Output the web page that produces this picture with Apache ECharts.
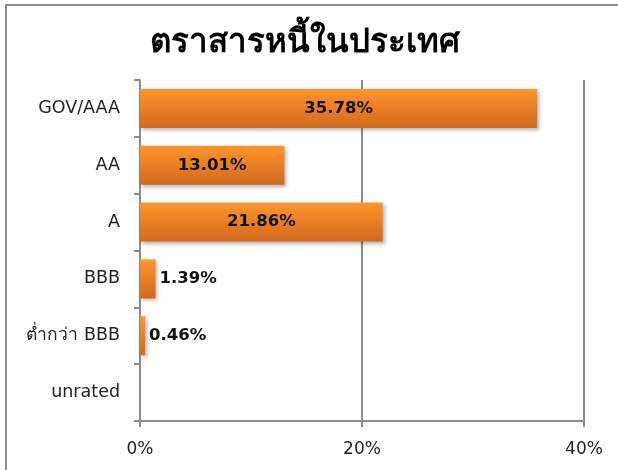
<!DOCTYPE html>
<html>
<head>
<meta charset="utf-8">
<script src="https://cdn.jsdelivr.net/npm/echarts@6/dist/echarts.min.js"></script>
<style>
html, body { margin: 0; padding: 0; background: #fff; overflow: hidden; }
#main { width: 618px; height: 470px; position: relative; }
#frame { position: absolute; left: 5px; top: 4px; width: 700px; height: 600px;
         border-left: 2px solid #8c8c8c; border-top: 2px solid #8c8c8c; pointer-events: none; }
</style>
</head>
<body>
<div id="main"></div>
<div id="frame"></div>
<script>
var categories = ['GOV/AAA', 'AA', 'A', 'BBB', 'ต่ำกว่า BBB', 'unrated'];
var values = [35.78, 13.01, 21.86, 1.39, 0.46, 0];
var xTicks = [0, 20, 40];

var myChart = echarts.init(document.getElementById('main'));

var barData = values.map(function (v) {
    var item = { value: v };
    if (v === 0) {
        item.label = { show: false };
    } else if (v < 5) {
        item.label = { position: 'right', distance: 4 };
    }
    return item;
});

option = {
    backgroundColor: '#fff',
    animation: false,
    title: {
        text: 'ตราสารหนี้ในประเทศ',
        left: 300,
        textAlign: 'center',
        top: 22,
        textStyle: {
            color: '#000',
            fontSize: 33,
            fontWeight: 'bold',
            fontFamily: 'DejaVu Sans, Noto Sans'
        }
    },
    grid: {
        left: 140,
        right: 34,
        top: 80,
        bottom: 49
    },
    xAxis: {
        type: 'value',
        min: xTicks[0],
        max: xTicks[xTicks.length - 1],
        interval: 20,
        axisLine: { show: true, lineStyle: { color: '#8c8c8c', width: 2 } },
        axisTick: { show: true, length: 6, lineStyle: { color: '#8c8c8c', width: 2 } },
        splitLine: { show: true, lineStyle: { color: '#8c8c8c', width: 2 } },
        axisLabel: {
            formatter: '{value}%',
            color: '#222',
            fontSize: 17,
            margin: 20,
            fontFamily: 'DejaVu Sans, Noto Sans'
        }
    },
    yAxis: {
        type: 'category',
        data: categories,
        inverse: true,
        axisLine: { show: true, lineStyle: { color: '#8c8c8c', width: 2 } },
        axisTick: { show: true, length: 6, lineStyle: { color: '#8c8c8c', width: 2 } },
        axisLabel: {
            color: '#222',
            fontSize: 17.5,
            margin: 20,
            fontFamily: 'DejaVu Sans, Noto Sans'
        }
    },
    series: [{
        type: 'bar',
        data: barData,
        barWidth: 39,
        itemStyle: {
            color: new echarts.graphic.LinearGradient(0, 0, 0, 1, [
                { offset: 0, color: '#ff952c' },
                { offset: 1, color: '#d2691c' }
            ]),
            shadowColor: 'rgba(0,0,0,0.3)',
            shadowBlur: 4,
            shadowOffsetX: 2,
            shadowOffsetY: 2
        },
        label: {
            show: true,
            position: 'inside',
            formatter: function (p) { return p.value.toFixed(2) + '%'; },
            color: '#111',
            fontSize: 16.5,
            fontWeight: 'bold',
            fontFamily: 'DejaVu Sans, Noto Sans'
        }
    }]
};

myChart.setOption(option);
</script>
</body>
</html>
